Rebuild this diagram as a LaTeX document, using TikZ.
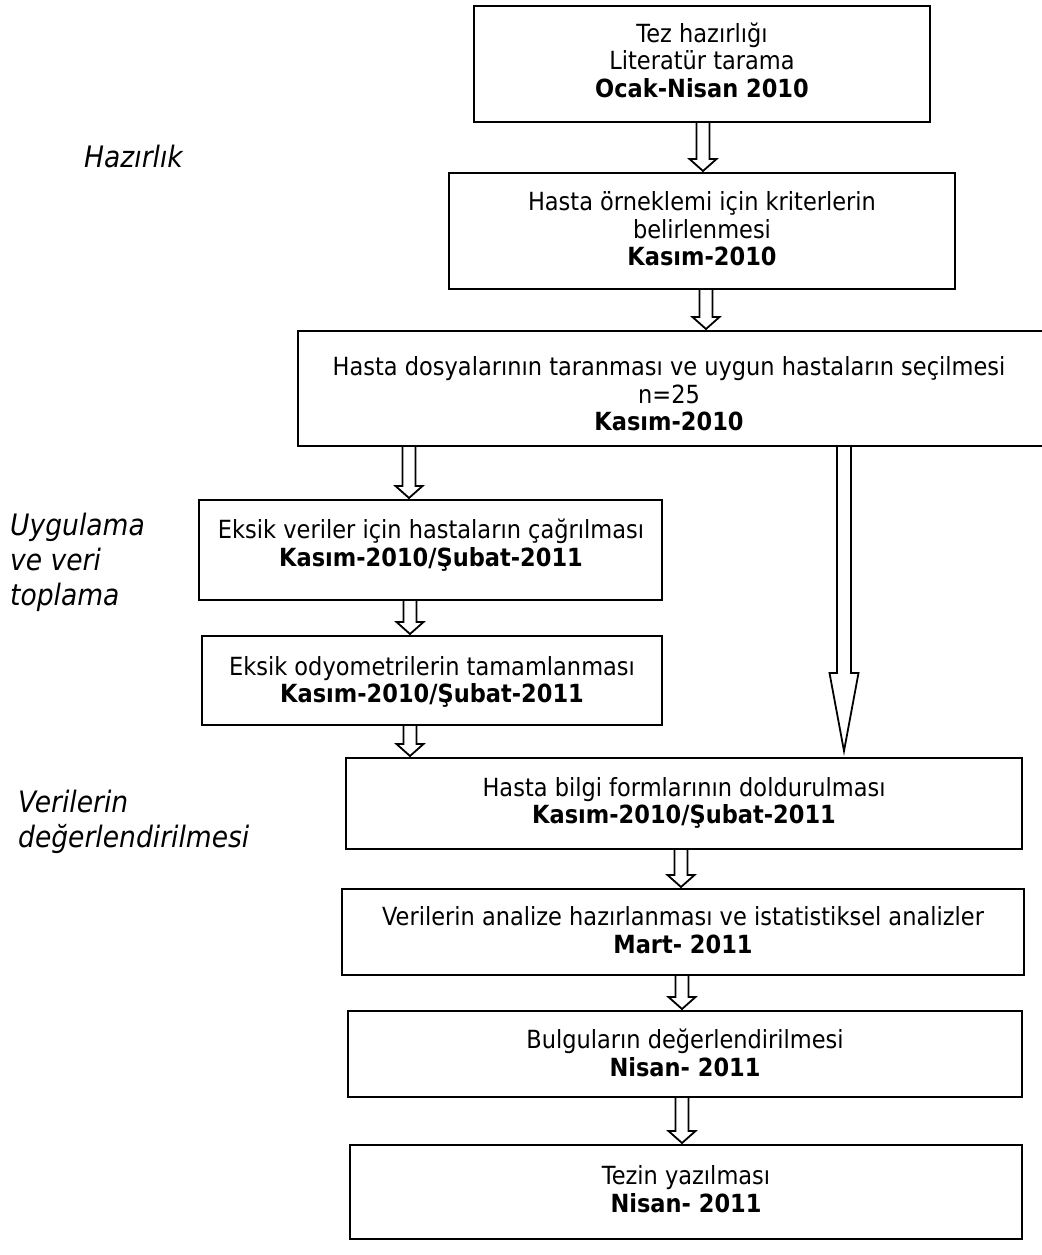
\documentclass[tikz,border=0pt]{standalone}
\usepackage{fontspec}
\setmainfont{DejaVu Sans}[FakeStretch=0.9]
\usetikzlibrary{calc}
\tikzset{
  box/.style={draw, line width=2pt, rectangle, inner sep=0pt},
  txt/.style={align=center, inner sep=0pt, font=\fontsize{25}{27.5}\selectfont},
  side/.style={align=left, anchor=west, inner sep=0pt, font=\fontsize{29.5}{35}\selectfont\itshape},
  barrow/.style={draw, line width=1.8pt, fill=white, line join=miter}
}
% block arrow: #1 x, #2 from node, #3 to node, #4 half shaft, #5 half head, #6 head length, #7 gap at tip
\newcommand\blockarr[7]{%
  \path[barrow] let \p1=(#2.south), \p2=(#3.north) in
    (#1pt-#4pt,\y1) -- (#1pt-#4pt,\y2+#7pt+#6pt) -- (#1pt-#5pt,\y2+#7pt+#6pt) -- (#1pt,\y2+#7pt)
    -- (#1pt+#5pt,\y2+#7pt+#6pt) -- (#1pt+#4pt,\y2+#7pt+#6pt) -- (#1pt+#4pt,\y1);}
\newcommand\boxat[5]{% name, x1, y1, x2, y2
  \node[box, minimum width={(#4-#2)*1pt}, minimum height={(#5-#3)*1pt}] (#1) at ({(#2+#4)/2},{-(#3+#5)/2}) {};}
\begin{document}
\begin{tikzpicture}[x=1pt,y=1pt]
\useasboundingbox (0,0) rectangle (1041,-1255);
\fill[white] (0,0) rectangle (1041,-1255);

\boxat{b1}{474}{6}{930}{122}
\boxat{b2}{449}{173}{955}{289}
\boxat{b3}{298}{331}{1046}{446}
\boxat{b4}{199}{500}{662}{600}
\boxat{b5}{202}{636}{662}{725}
\boxat{b6}{346}{758}{1022}{849}
\boxat{b7}{342}{889}{1024}{975}
\boxat{b8}{348}{1011}{1022}{1097}
\boxat{b9}{350}{1145}{1022}{1239}

\node[txt] (t1) at (702,-60) {Tez hazırlığı\\Literatür tarama\\\textbf{Ocak-Nisan 2010}};
\node[txt] (t2) at (702,-229) {Hasta örneklemi için kriterlerin\\belirlenmesi\\\textbf{Kasım-2010}};
\node[txt] (t3) at (669,-394) {Hasta dosyalarının taranması ve uygun hastaların seçilmesi\\n=25\\\textbf{Kasım-2010}};
\node[txt] (t4) at (431,-545) {Eksik veriler için hastaların çağrılması\\\textbf{Kasım-2010/Şubat-2011}};
\node[txt] (t5) at (432,-682) {Eksik odyometrilerin tamamlanması\\\textbf{Kasım-2010/Şubat-2011}};
\node[txt] (t6) at (684,-803) {Hasta bilgi formlarının doldurulması\\\textbf{Kasım-2010/Şubat-2011}};
\node[txt] (t7) at (683,-930) {Verilerin analize hazırlanması ve istatistiksel analizler\\\textbf{Mart- 2011}};
\node[txt] (t8) at (685,-1053) {Bulguların değerlendirilmesi\\\textbf{Nisan- 2011}};
\node[txt] (t9) at (686,-1189) {Tezin yazılması\\\textbf{Nisan- 2011}};

\node[side] (s1) at (84,-157) {Hazırlık};
\node[side] (s2) at (10,-562) {Uygulama\\ve veri\\toplama};
\node[side] (s3) at (18,-822) {Verilerin\\değerlendirilmesi};

\blockarr{703}{b1}{b2}{6.5}{13.5}{12}{1}
\blockarr{706}{b2}{b3}{6.5}{13.5}{12}{1}
\blockarr{409}{b3}{b4}{6.5}{13.5}{12}{1}
\blockarr{844}{b3}{b6}{7}{14.5}{78}{6}
\blockarr{410}{b4}{b5}{6.5}{13.5}{12}{1}
\blockarr{410}{b5}{b6}{6.5}{13.5}{12}{1}
\blockarr{681}{b6}{b7}{6.5}{13.5}{12}{1}
\blockarr{682}{b7}{b8}{6.5}{13.5}{12}{1}
\blockarr{682}{b8}{b9}{6.5}{13.5}{12}{1}
\end{tikzpicture}
\end{document}
